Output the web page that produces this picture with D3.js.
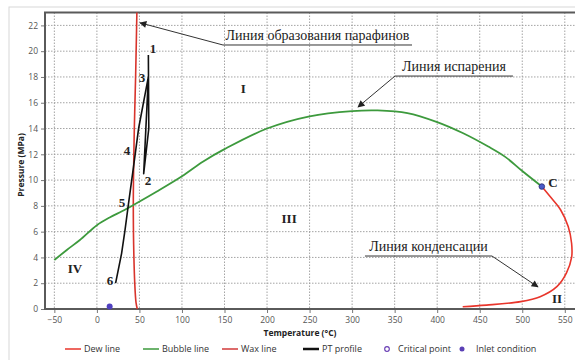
<!DOCTYPE html>
<html><head><meta charset="utf-8">
<script src="https://cdn.jsdelivr.net/npm/d3@7/dist/d3.min.js"></script>
<style>body{margin:0;background:#fff}svg{display:block}</style>
</head><body>
<svg id="c" width="575" height="360"></svg>
<script>
// ---- data (Temperature °C, Pressure MPa) ----
const xTicks = [-50,0,50,100,150,200,250,300,350,400,450,500,550];
const yTicks = [0,2,4,6,8,10,12,14,16,18,20,22];
const bubbleLine = [[-50,3.8],[-35,4.6],[-20,5.35],[0,6.5],[15,7.1],[30,7.6],[45,8.15],[70,9.1],[100,10.3],[125,11.45],[150,12.4],[200,14.0],[250,14.95],[300,15.35],[330,15.4],[365,15.2],[400,14.5],[430,13.65],[460,12.6],[480,11.8],[500,10.7],[523,9.5]];
const dewLine = [[523,9.5],[533,8.7],[545,7.7],[554,6.4],[558,5.1],[558,4.0],[552,2.8],[541,1.75],[521,0.95],[498,0.57],[458,0.3],[430,0.18]];
const waxLine = [[47,23],[45.5,18],[44,14],[43,10],[42.8,8],[43.2,5],[44.5,2],[46,0.5],[47.5,0]];
const ptProfile = [[60.5,19.7],[61,14],[55,10.5],[60.5,18],[49,14],[43,11],[37,8.1],[33,6.1],[29,4.3],[22,2]];
const criticalPoint = [523,9.5];
const inletCondition = [15,0.2];
const pointLabels = [["1",66,20.2],["2",60,10.0],["3",53,18.0],["4",35.4,12.3],["5",29.5,8.3],["6",15.4,2.2]];
const regionLabels = [["I",172,17.1],["II",541,0.85],["III",226,7.06],["IV",-25.7,3.18],["C",536,9.85]];
// callouts: text, arrow tip, elbow, other end of underline
const callouts = [
  {text:"Линия образования парафинов", tip:[50.7,22.2], elbow:[148.2,20.48], end:[370.4,20.48]},
  {text:"Линия испарения", tip:[306.9,15.67], elbow:[350.4,18.07], end:[489.1,18.07]},
  {text:"Линия конденсации", tip:[518.5,1.71], elbow:[464.4,4.11], end:[315.1,4.11]}
];
const legendItems = [
  {label:"Dew line", type:"line", color:"#e8352b", w:1.5},
  {label:"Bubble line", type:"line", color:"#3d9a3d", w:1.5},
  {label:"Wax line", type:"line", color:"#d23a3a", w:1.5},
  {label:"PT profile", type:"line", color:"#111", w:2.5},
  {label:"Critical point", type:"open", color:"#6a3fb5"},
  {label:"Inlet condition", type:"dot", color:"#5a3fb5"}
];

// ---- layout ----
const svg = d3.select("#c");
const L=45, R=575, T=12.5, B=309;
const x = d3.scaleLinear([-61,562],[L,R]);
const y = d3.scaleLinear([0,23],[B,T]);

// outer frame
svg.append("rect").attr("x",9).attr("y",7).attr("width",580).attr("height",370)
  .attr("fill","none").attr("stroke","#d8d8d8").attr("stroke-width",1);

// grid
const g = svg.append("g");
g.selectAll(".gx").data(xTicks).join("line")
  .attr("x1",d=>x(d)).attr("x2",d=>x(d)).attr("y1",T).attr("y2",B)
  .attr("stroke","#9a9a9a").attr("stroke-width",0.9).attr("stroke-dasharray","1.5,1.5");
g.selectAll(".gy").data(yTicks).join("line")
  .attr("x1",L).attr("x2",R).attr("y1",d=>y(d)).attr("y2",d=>y(d))
  .attr("stroke","#9a9a9a").attr("stroke-width",0.9).attr("stroke-dasharray","1.5,1.5");

// axes
const ax = svg.append("g").attr("transform",`translate(0,${B})`)
  .call(d3.axisBottom(x).tickValues(xTicks).tickSize(4).tickPadding(4));
const ay = svg.append("g").attr("transform",`translate(${L},0)`)
  .call(d3.axisLeft(y).tickValues(yTicks).tickSize(4).tickPadding(3));
[ax,ay].forEach(a=>{
  a.select(".domain").remove();
  a.selectAll("line").attr("stroke","#777");
  a.selectAll("text").attr("fill","#555").style("font-family","Open Sans, sans-serif").style("font-size","8.5px");
});

// plot frame
svg.append("path").attr("d",`M${R},${T}H${L}V${B}H${R}`)
  .attr("fill","none").attr("stroke","#5a5a5a").attr("stroke-width",2);

// axis titles
svg.append("text").attr("x",300).attr("y",336).attr("text-anchor","middle")
  .style("font-family","Open Sans, sans-serif").style("font-size","8.5px").style("font-weight","bold")
  .attr("fill","#222").text("Temperature (°C)");
svg.append("text").attr("transform","translate(24,165) rotate(-90)").attr("text-anchor","middle")
  .style("font-family","Open Sans, sans-serif").style("font-size","8.5px").style("font-weight","bold")
  .attr("fill","#222").text("Pressure (MPa)");

// curves
const lineC = d3.line().x(d=>x(d[0])).y(d=>y(d[1])).curve(d3.curveCatmullRom.alpha(0.5));
const lineL = d3.line().x(d=>x(d[0])).y(d=>y(d[1]));
svg.append("path").datum(waxLine).attr("d",lineC).attr("fill","none").attr("stroke","#d8342c").attr("stroke-width",1.6);
svg.append("path").datum(bubbleLine).attr("d",lineC).attr("fill","none").attr("stroke","#3d9a3d").attr("stroke-width",1.8);
svg.append("path").datum(dewLine).attr("d",lineC).attr("fill","none").attr("stroke","#e8352b").attr("stroke-width",1.6);
svg.append("path").datum(ptProfile).attr("d",lineL).attr("fill","none").attr("stroke","#111").attr("stroke-width",1.6).attr("stroke-linejoin","round");

// points
svg.append("circle").attr("cx",x(criticalPoint[0])).attr("cy",y(criticalPoint[1])).attr("r",2.8)
  .attr("fill","#4a5ac8").attr("stroke","#2a2a70").attr("stroke-width",0.8);
svg.append("circle").attr("cx",x(inletCondition[0])).attr("cy",y(inletCondition[1])).attr("r",3)
  .attr("fill","#5040c0");

// callouts
const defs = svg.append("defs");
defs.append("marker").attr("id","arr").attr("viewBox","0 0 10 10").attr("refX",9).attr("refY",5)
  .attr("markerWidth",9).attr("markerHeight",7).attr("orient","auto-start-reverse").attr("markerUnits","userSpaceOnUse")
  .append("path").attr("d","M0,0L10,5L0,10Z").attr("fill","#222");
callouts.forEach(c=>{
  svg.append("path").attr("d",`M${x(c.end[0])},${y(c.end[1])}L${x(c.elbow[0])},${y(c.elbow[1])}L${x(c.tip[0])},${y(c.tip[1])}`)
    .attr("fill","none").attr("stroke","#333").attr("stroke-width",1).attr("marker-end","url(#arr)");
  const cx = (x(c.end[0])+x(c.elbow[0]))/2;
  svg.append("text").attr("x",cx).attr("y",y(c.elbow[1])-5).attr("text-anchor","middle")
    .style("font-family","Liberation Serif, serif").style("font-size","14px").attr("fill","#222").text(c.text);
});

// labels
svg.selectAll(".pl").data(pointLabels).join("text")
  .attr("x",d=>x(d[1])).attr("y",d=>y(d[2])).attr("text-anchor","middle").attr("dy","0.35em")
  .style("font-family","Liberation Serif, serif").style("font-size","13px").style("font-weight","bold")
  .attr("fill","#222").text(d=>d[0]);
svg.selectAll(".rl").data(regionLabels).join("text")
  .attr("x",d=>x(d[1])).attr("y",d=>y(d[2])).attr("text-anchor","middle").attr("dy","0.35em")
  .style("font-family","Liberation Serif, serif").style("font-size","13px").style("font-weight","bold")
  .attr("fill","#222").text(d=>d[0]);

// legend
const lx = [65,143,222,303,387,462];
const ly = 349;
legendItems.forEach((it,i)=>{
  const gx = svg.append("g").attr("transform",`translate(${lx[i]},${ly})`);
  let tx;
  if(it.type==="line"){
    gx.append("line").attr("x1",0).attr("x2",16).attr("y1",0).attr("y2",0).attr("stroke",it.color).attr("stroke-width",it.w);
    tx = 19;
  } else if(it.type==="open"){
    gx.append("circle").attr("r",2.3).attr("fill","none").attr("stroke",it.color).attr("stroke-width",1.2);
    tx = 11;
  } else {
    gx.append("circle").attr("r",2.5).attr("fill",it.color);
    tx = 14;
  }
  gx.append("text").attr("x",tx).attr("y",0).attr("dy","0.35em")
    .style("font-family","Open Sans, sans-serif").style("font-size","9px").attr("fill","#333").text(it.label);
});
</script>
</body></html>
